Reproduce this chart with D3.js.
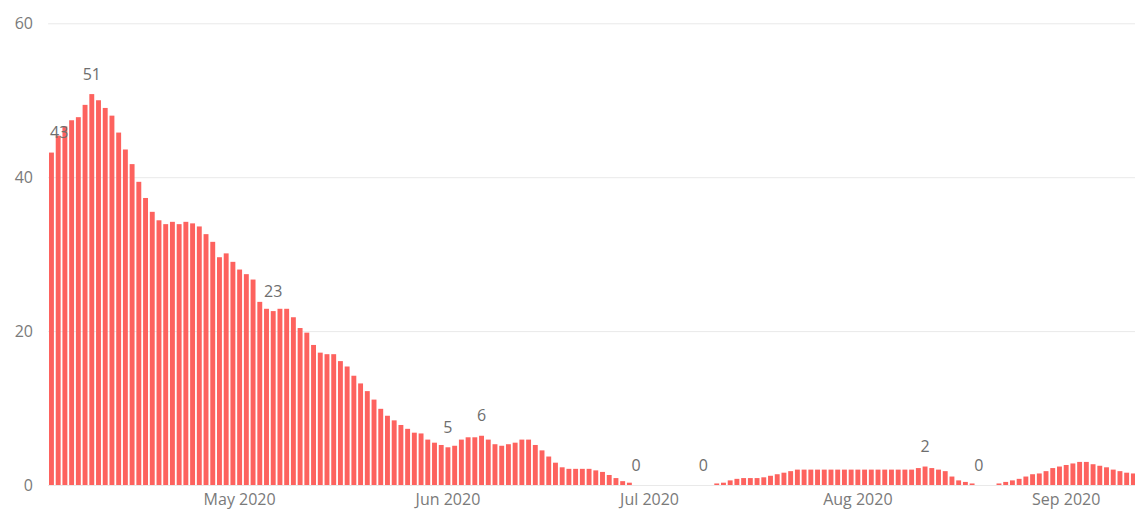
<!DOCTYPE html>
<html>
<head>
<meta charset="utf-8">
<script src="https://cdn.jsdelivr.net/npm/d3@7/dist/d3.min.js"></script>
<style>
  html, body { margin: 0; padding: 0; background: #ffffff; }
  svg { display: block; font-family: "Open Sans", "Noto Sans", sans-serif; }
</style>
</head>
<body>
<svg id="chart" width="1135" height="510"></svg>
<script>
// Daily values, one per day starting 3 April 2020
const startDay = "2020-04-03";
const dailyValues = [
  43.2, 45.4, 46.6, 47.4, 47.8, 49.4, 50.8, 50.0, 49.0, 48.0,
  45.8, 43.6, 41.7, 39.4, 37.3, 35.5, 34.4, 33.9, 34.2, 33.9,
  34.2, 34.0, 33.6, 32.6, 31.6, 29.6, 30.1, 29.0, 28.0, 27.4,
  26.7, 23.8, 22.9, 22.6, 22.9, 22.9, 21.8, 20.4, 19.8, 18.2,
  17.2, 17.0, 17.0, 16.1, 15.4, 14.2, 13.2, 12.2, 11.1, 9.9,
  9.0, 8.4, 7.8, 7.3, 6.8, 6.7, 5.9, 5.5, 5.2, 4.9,
  5.1, 5.9, 6.2, 6.2, 6.4, 5.9, 5.3, 5.1, 5.3, 5.5,
  5.9, 5.9, 5.2, 4.5, 3.7, 2.9, 2.3, 2.1, 2.1, 2.1,
  2.1, 1.9, 1.7, 1.3, 0.9, 0.5, 0.3, 0, 0, 0,
  0, 0, 0, 0, 0, 0, 0, 0, 0, 0.2,
  0.3, 0.6, 0.8, 0.9, 0.9, 0.9, 1.0, 1.2, 1.4, 1.6,
  1.8, 2.0, 2.0, 2.0, 2.0, 2.0, 2.0, 2.0, 2.0, 2.0,
  2.0, 2.0, 2.0, 2.0, 2.0, 2.0, 2.0, 2.0, 2.0, 2.2,
  2.4, 2.2, 2.0, 1.8, 1.1, 0.6, 0.4, 0.2, 0, 0,
  0, 0.2, 0.4, 0.6, 0.8, 1.1, 1.4, 1.5, 1.8, 2.2,
  2.4, 2.6, 2.8, 3.0, 3.0, 2.7, 2.5, 2.3, 2.0, 1.8,
  1.6, 1.5, 1.5
];

// Days that carry a data label
const labelledDays = [
  "2020-04-03", "2020-04-09", "2020-05-06", "2020-06-01", "2020-06-06",
  "2020-06-29", "2020-07-09", "2020-08-11", "2020-08-19", "2020-09-12"
];

// Month ticks on the x axis and value ticks on the y axis
const monthTicks = ["2020-05-01", "2020-06-01", "2020-07-01", "2020-08-01", "2020-09-01"];
const valueTicks = [0, 20, 40, 60];

const parseDay = d3.utcParse("%Y-%m-%d");
const fmtDay = d3.utcFormat("%Y-%m-%d");
const fmtMonth = d3.utcFormat("%b %Y");

const first = parseDay(startDay);
const days = dailyValues.map((v, i) => fmtDay(d3.utcDay.offset(first, i)));
const rows = days.map((d, i) => ({ day: d, value: dailyValues[i] }));

const svg = d3.select("#chart");
const W = 1135, H = 510;
const plotLeft = 48.1;
const step = 6.72;

const x = d3.scaleBand()
  .domain(days)
  .range([plotLeft, plotLeft + step * days.length])
  .paddingInner(0.27)
  .paddingOuter(0.135);

const y = d3.scaleLinear().domain([0, 60]).range([485, 23.3]);

// Horizontal gridlines
svg.append("g")
  .selectAll("line")
  .data(valueTicks)
  .join("line")
  .attr("x1", plotLeft)
  .attr("x2", W)
  .attr("y1", d => y(d) + 0.5)
  .attr("y2", d => y(d) + 0.5)
  .attr("stroke", "#e9e9e9")
  .attr("stroke-width", 1);

// Y axis labels
const yAxis = d3.axisLeft(y).tickValues(valueTicks).tickSize(0).tickPadding(0);
svg.append("g")
  .attr("transform", "translate(33,0)")
  .call(yAxis)
  .call(g => g.select(".domain").remove())
  .call(g => g.selectAll("text")
    .attr("fill", "#7a7a7a")
    .style("font-size", "16px")
    .style("font-family", "'Open Sans', 'Noto Sans', sans-serif"));

// Bars
svg.append("g")
  .selectAll("rect")
  .data(rows)
  .join("rect")
  .attr("x", d => x(d.day))
  .attr("width", x.bandwidth())
  .attr("y", d => y(d.value))
  .attr("height", d => y(0) - y(d.value))
  .attr("fill", "#FD625E");

// X axis month labels
const xAxis = d3.axisBottom(x)
  .tickValues(monthTicks)
  .tickSize(0)
  .tickPadding(0)
  .tickFormat(d => fmtMonth(parseDay(d)));
svg.append("g")
  .attr("transform", "translate(0,493.5)")
  .call(xAxis)
  .call(g => g.select(".domain").remove())
  .call(g => g.selectAll("text")
    .attr("fill", "#7a7a7a")
    .attr("dy", "0.71em")
    .style("font-size", "16px")
    .style("font-family", "'Open Sans', 'Noto Sans', sans-serif"));

// Data labels above selected bars
const byDay = new Map(rows.map(r => [r.day, r]));
const labels = svg.append("g")
  .selectAll("text")
  .data(labelledDays.map(d => byDay.get(d)).filter(Boolean))
  .join("text")
  .attr("x", d => x(d.day) + x.bandwidth() / 2)
  .attr("y", d => y(d.value) - 14.5)
  .attr("text-anchor", "middle")
  .attr("fill", "#6e6e6e")
  .style("font-size", "16px")
  .text(d => d3.format("d")(Math.round(d.value)));

// Keep labels inside the plot on the left side
labels.each(function() {
  const t = d3.select(this);
  const w = this.getComputedTextLength();
  const cx = +t.attr("x");
  if (cx - w / 2 < plotLeft + 2) t.attr("x", plotLeft + 2 + w / 2);
});
</script>
</body>
</html>
